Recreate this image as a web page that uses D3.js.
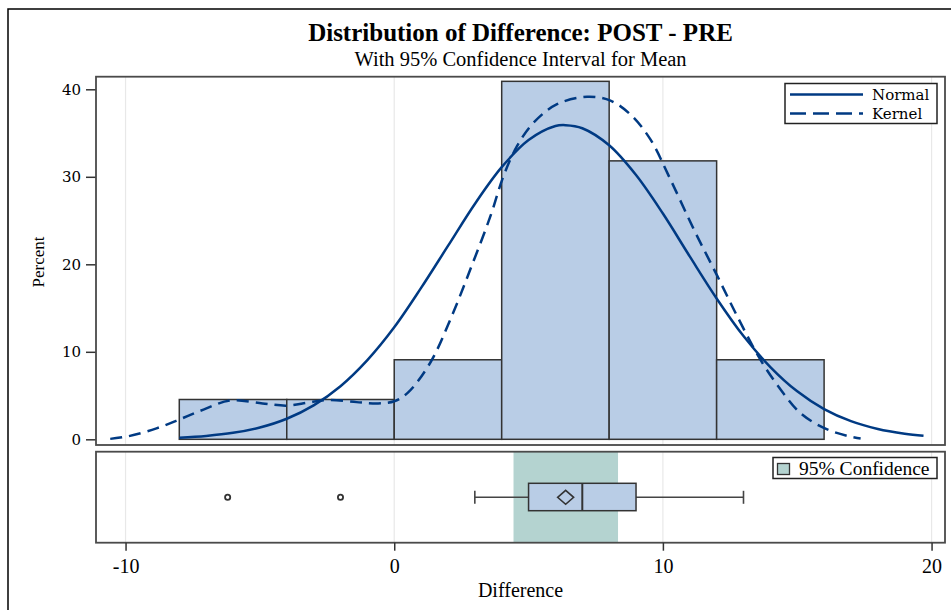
<!DOCTYPE html>
<html lang="en">
<head>
<meta charset="UTF-8">
<title>Distribution of Difference</title>
<script src="https://cdn.jsdelivr.net/npm/d3@7"></script>
<style>
  body { margin: 0; background: #fff; }
  svg text { font-family: "Liberation Serif", "Times New Roman", serif; fill: #000; }
</style>
</head>
<body>
<svg id="main" width="951" height="610"></svg>
<script>
// ---- data ----
var binStart = [-8, -4, 0, 4, 8, 12];
var binWidth = 4;
var binPercent = [4.55, 4.55, 9.09, 40.91, 31.82, 9.09];

var normalX = [-8, -7, -6, -5, -4, -3, -2, -1, 0, 1, 2, 3, 4, 5, 6, 6.38, 7, 8, 9, 10, 11, 12, 13, 14, 15, 16, 17, 18, 19, 19.7];
var normalY = [0.19, 0.39, 0.74, 1.35, 2.35, 3.88, 6.07, 9.05, 12.8, 17.3, 22.1, 26.9, 31.1, 34.2, 35.8, 35.9, 35.55, 33.6, 30.2, 25.8, 20.9, 16.1, 11.8, 8.26, 5.48, 3.45, 2.07, 1.18, 0.64, 0.4];

var kernelX = [-10.57, -9.9, -8.85, -7.97, -7.1, -6.1, -4.9, -4.0, -3.2, -2.5, -1.4, -0.6, 0, 0.5, 1.34, 2.09, 2.83, 3.58, 4.07, 4.57, 5.19, 6.06, 7.18, 8.05, 8.8, 9.53, 10.28, 11.15, 12.02, 12.76, 13.63, 14.38, 15.12, 15.99, 16.86, 17.36];
var kernelY = [0.05, 0.35, 1.25, 2.3, 3.4, 4.45, 4.1, 3.85, 4.2, 4.5, 4.25, 4.1, 4.35, 5.3, 8.75, 13.7, 19.4, 25.5, 30.1, 33.5, 36.2, 38.3, 39.15, 38.7, 37.1, 34.3, 29.7, 24, 18.7, 14.1, 9.1, 5.7, 3.0, 1.3, 0.4, 0.1];

var boxStats = [3, 5, 7, 9, 13];   // whisker low, Q1, median, Q3, whisker high
var meanValue = 6.38;
var outliers = [-6.2, -2.0];
var ciBounds = [4.44, 8.33];

var xTicks = [-10, 0, 10, 20];
var yTicks = [0, 10, 20, 30, 40];

var curveColor = "#003a83";
var barFill = "#b9cde6";
var ciFill = "#b4d3d0";
var edge = "#333";

var svg = d3.select("svg#main");

// outer border
svg.append("rect").attr("x", 8).attr("y", 9).attr("width", 960).attr("height", 620)
   .attr("fill", "none").attr("stroke", "#000").attr("stroke-width", 1.5);

var left = 96, right = 945;
var top1 = 76.7, bot1 = 445, top2 = 451.7, bot2 = 542.7;

var x = d3.scaleLinear().domain([-11.1, 20.5]).range([left, right]);
var y = d3.scaleLinear().domain([-0.65, 41.44]).range([bot1, top1]);

// titles
svg.append("text").attr("x", (left + right) / 2).attr("y", 41).attr("text-anchor", "middle")
   .style("font-size", "25px").style("font-weight", "bold")
   .text("Distribution of Difference: POST - PRE");
svg.append("text").attr("x", (left + right) / 2).attr("y", 66).attr("text-anchor", "middle")
   .style("font-size", "20.5px")
   .text("With 95% Confidence Interval for Mean");

// grid lines
[[top1, bot1], [top2, bot2]].forEach(function(p) {
    svg.append("g").selectAll("line").data(xTicks).enter().append("line")
       .attr("x1", d => x(d)).attr("x2", d => x(d))
       .attr("y1", p[0]).attr("y2", p[1])
       .attr("stroke", "#e8e8e8").attr("stroke-width", 1.2);
});

// histogram
svg.append("g").selectAll("rect").data(binStart).enter().append("rect")
   .attr("x", d => x(d))
   .attr("width", d => x(d + binWidth) - x(d))
   .attr("y", (d, i) => y(binPercent[i]))
   .attr("height", (d, i) => y(0) - y(binPercent[i]))
   .attr("fill", barFill).attr("stroke", edge).attr("stroke-width", 1.5);

// curves
var line = d3.line().x(d => x(d[0])).y(d => y(d[1])).curve(d3.curveCatmullRom.alpha(0.5));
svg.append("path").datum(d3.zip(normalX, normalY)).attr("d", line)
   .attr("fill", "none").attr("stroke", curveColor).attr("stroke-width", 2.5);
svg.append("path").datum(d3.zip(kernelX, kernelY)).attr("d", line)
   .attr("fill", "none").attr("stroke", curveColor).attr("stroke-width", 2.5)
   .attr("stroke-dasharray", "12,7");

// y axis
var yAxis = svg.append("g").attr("transform", "translate(" + left + ",0)")
   .call(d3.axisLeft(y).tickValues(yTicks).tickSize(10).tickPadding(5).tickFormat(d => String(d)));
yAxis.select(".domain").remove();
yAxis.selectAll("line").attr("stroke", "#333").attr("stroke-width", 1.5);
yAxis.selectAll("text").style("font-family", "'DejaVu Serif', serif").style("font-size", "15px").attr("fill", "#000");

svg.append("text").attr("transform", "translate(44,262) rotate(-90)")
   .attr("text-anchor", "middle").style("font-size", "17px").text("Percent");

// main frame
svg.append("rect").attr("x", left).attr("y", top1).attr("width", right - left).attr("height", bot1 - top1)
   .attr("fill", "none").attr("stroke", "#4a4a4a").attr("stroke-width", 1.8);

// legend (curves)
var lg = svg.append("g");
lg.append("rect").attr("x", 785).attr("y", 83.5).attr("width", 152).attr("height", 40)
  .attr("fill", "#fff").attr("stroke", "#222").attr("stroke-width", 1.5);
lg.append("line").attr("x1", 790).attr("x2", 863).attr("y1", 94.5).attr("y2", 94.5)
  .attr("stroke", curveColor).attr("stroke-width", 2.5);
lg.append("line").attr("x1", 790).attr("x2", 863).attr("y1", 113.5).attr("y2", 113.5)
  .attr("stroke", curveColor).attr("stroke-width", 2.5).attr("stroke-dasharray", "16,7");
lg.append("text").attr("x", 872).attr("y", 100).style("font-family", "'DejaVu Serif', serif")
  .style("font-size", "15px").text("Normal");
lg.append("text").attr("x", 872).attr("y", 119).style("font-family", "'DejaVu Serif', serif")
  .style("font-size", "15px").text("Kernel");

// box panel
var by = 497.3;
svg.append("rect").attr("x", x(ciBounds[0])).attr("y", top2)
   .attr("width", x(ciBounds[1]) - x(ciBounds[0])).attr("height", bot2 - top2)
   .attr("fill", ciFill);

var bp = svg.append("g");
bp.append("line").attr("x1", x(boxStats[0])).attr("x2", x(boxStats[1])).attr("y1", by).attr("y2", by)
  .attr("stroke", "#444").attr("stroke-width", 1.6);
bp.append("line").attr("x1", x(boxStats[3])).attr("x2", x(boxStats[4])).attr("y1", by).attr("y2", by)
  .attr("stroke", "#444").attr("stroke-width", 1.6);
[boxStats[0], boxStats[4]].forEach(function(v) {
    bp.append("line").attr("x1", x(v)).attr("x2", x(v)).attr("y1", by - 6.5).attr("y2", by + 6.5)
      .attr("stroke", "#444").attr("stroke-width", 1.6);
});
bp.append("rect").attr("x", x(boxStats[1])).attr("y", 483.3)
  .attr("width", x(boxStats[3]) - x(boxStats[1])).attr("height", 27.4)
  .attr("fill", barFill).attr("stroke", edge).attr("stroke-width", 1.5);
bp.append("line").attr("x1", x(boxStats[2])).attr("x2", x(boxStats[2])).attr("y1", 483.3).attr("y2", 510.7)
  .attr("stroke", edge).attr("stroke-width", 2);
bp.append("path")
  .attr("d", "M" + (x(meanValue) - 8) + "," + by + "L" + x(meanValue) + "," + (by - 7) +
             "L" + (x(meanValue) + 8) + "," + by + "L" + x(meanValue) + "," + (by + 7) + "Z")
  .attr("fill", "none").attr("stroke", edge).attr("stroke-width", 1.6);
bp.selectAll("circle").data(outliers).enter().append("circle")
  .attr("cx", d => x(d)).attr("cy", by).attr("r", 2.6)
  .attr("fill", "none").attr("stroke", edge).attr("stroke-width", 1.8);

svg.append("rect").attr("x", left).attr("y", top2).attr("width", right - left).attr("height", bot2 - top2)
   .attr("fill", "none").attr("stroke", "#4a4a4a").attr("stroke-width", 1.8);

// legend (confidence)
var lg2 = svg.append("g");
lg2.append("rect").attr("x", 773).attr("y", 457.5).attr("width", 164).attr("height", 21)
   .attr("fill", "#fff").attr("stroke", "#222").attr("stroke-width", 1.5);
lg2.append("rect").attr("x", 777.5).attr("y", 463.5).attr("width", 12).attr("height", 11)
   .attr("fill", ciFill).attr("stroke", edge).attr("stroke-width", 1.3);
lg2.append("text").attr("x", 799).attr("y", 474.5).style("font-size", "19.5px").text("95% Confidence");

// x axis
var xAxis = svg.append("g").attr("transform", "translate(0," + bot2 + ")")
   .call(d3.axisBottom(x).tickValues(xTicks).tickSize(8).tickPadding(8).tickFormat(d => String(d)));
xAxis.select(".domain").remove();
xAxis.selectAll("line").attr("stroke", "#333").attr("stroke-width", 1.5);
xAxis.selectAll("text").style("font-family", "'Liberation Serif', serif").style("font-size", "20px").attr("fill", "#000");

svg.append("text").attr("x", (left + right) / 2).attr("y", 597).attr("text-anchor", "middle")
   .style("font-size", "20px").text("Difference");
</script>
</body>
</html>
